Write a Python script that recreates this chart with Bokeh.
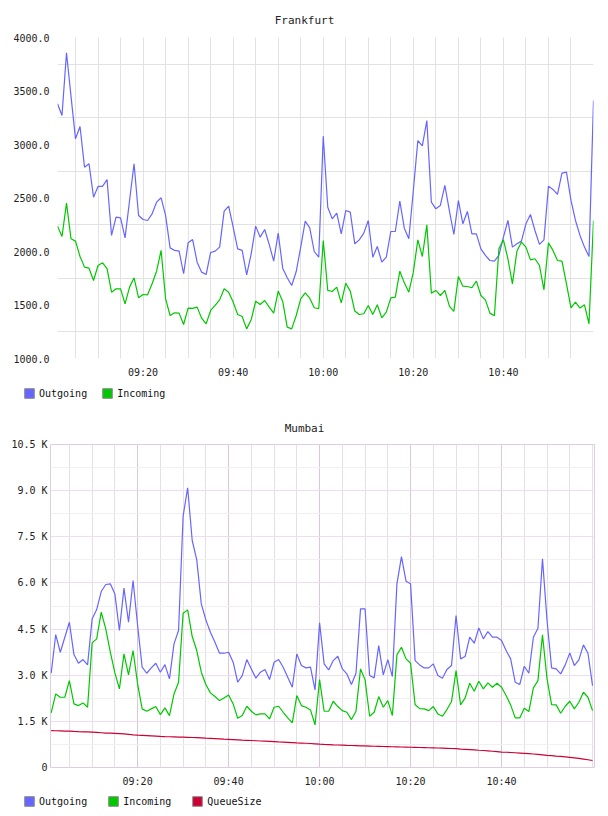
import pandas as pd
from bokeh.plotting import figure
from bokeh.layouts import column
from bokeh.models import (FixedTicker, PrintfTickFormatter, DatetimeTickFormatter,
                          Legend, LegendItem, Range1d, Label)
from bokeh.embed import file_html
from bokeh.resources import INLINE

# ---------------- data ----------------
day = "2024-01-01 "
first_time = "09:01"
n_points = 120
time_labels = ["09:20", "09:40", "10:00", "10:20", "10:40"]

fr_out = [3380, 3271, 3857, 3450, 3053, 3168, 2788, 2820, 2508, 2608,
          2608, 2673, 2150, 2321, 2315, 2128, 2477, 2820, 2337, 2299,
          2290, 2352, 2461, 2502, 2337, 2034, 2010, 2003, 1792, 2081,
          2112, 1900, 1807, 1785, 1991, 2003, 2041, 2377, 2424, 2228,
          2025, 2010, 1782, 1978, 2237, 2134, 2206, 2066, 1910, 2172,
          1844, 1754, 1682, 1813, 2041, 2284, 2221, 2000, 1947, 3078,
          2414, 2305, 2358, 2165, 2383, 2368, 2072, 2109, 2172, 2290,
          1947, 2047, 1900, 1947, 2187, 2187, 2471, 2218, 2119, 2570,
          3037, 2988, 3224, 2461, 2399, 2430, 2617, 2383, 2159, 2477,
          2259, 2374, 2165, 2165, 2025, 1963, 1916, 1910, 1963, 2134,
          2290, 2041, 2072, 2097, 2259, 2346, 2196, 2066, 2109, 2611,
          2580, 2533, 2732, 2742, 2477, 2290, 2150, 2041, 1953, 3411]

fr_in = [2237, 2140, 2452, 2119, 2097, 1953, 1854, 1844, 1729, 1869,
         1894, 1841, 1620, 1651, 1651, 1511, 1667, 1754, 1567, 1598,
         1595, 1698, 1816, 2010, 1558, 1402, 1427, 1424, 1318, 1471,
         1468, 1480, 1377, 1324, 1449, 1496, 1548, 1651, 1620, 1527,
         1411, 1393, 1277, 1362, 1536, 1505, 1542, 1480, 1424, 1630,
         1533, 1293, 1277, 1402, 1558, 1614, 1564, 1474, 1465, 2103,
         1636, 1626, 1667, 1520, 1704, 1630, 1443, 1411, 1418, 1496,
         1411, 1502, 1380, 1433, 1567, 1573, 1816, 1707, 1620, 1807,
         2109, 1953, 2249, 1611, 1636, 1589, 1636, 1489, 1440, 1767,
         1676, 1673, 1661, 1723, 1589, 1548, 1424, 1399, 2025, 2109,
         1932, 1698, 2003, 2088, 2041, 1922, 1932, 1869, 1642, 2081,
         2010, 1916, 1910, 1698, 1474, 1527, 1471, 1502, 1324, 2290]

mb_out = [3064, 4322, 3747, 4235, 4723, 3672, 3390, 3509, 3336, 4831,
          5135, 5720, 5948, 5970, 5644, 4452, 5829, 4723, 6078, 4615,
          3260, 3064, 3238, 3390, 3097, 3346, 2880, 4018, 4452, 8170,
          9092, 7379, 6750, 5319, 4799, 4398, 4073, 3715, 3715, 3747,
          3422, 2772, 2989, 3509, 3205, 2902, 3097, 3184, 2859, 3422,
          3509, 3260, 2934, 2609, 3693, 3314, 3238, 3260, 2522, 4701,
          3368, 3173, 3476, 3617, 3205, 3043, 2696, 3064, 5157, 5157,
          2989, 2913, 3964, 3010, 3509, 2956, 5970, 6858, 6056, 5970,
          3476, 3336, 3238, 3238, 3368, 2989, 2902, 3184, 3314, 4940,
          3531, 3607, 4235, 4040, 4539, 4181, 4420, 4235, 4235, 4127,
          3802, 3531, 2772, 2696, 3292, 3064, 4235, 4528, 6783, 4777,
          3238, 3205, 3043, 3336, 3726, 3314, 3498, 3986, 3715, 2664]

mb_in = [1775, 2392, 2284, 2284, 2826, 2067, 2013, 2100, 1959, 4051,
         4181, 5048, 4506, 3747, 3075, 2555, 3693, 3010, 3802, 2718,
         1905, 1829, 1905, 1981, 1720, 1937, 1688, 2392, 2772, 5016,
         5124, 4257, 3802, 3097, 2696, 2425, 2306, 2175, 2262, 2360,
         2067, 1601, 1688, 1991, 1829, 1710, 1742, 1742, 1579, 1959,
         1991, 1796, 1612, 1449, 2338, 2013, 1959, 1872, 1384, 2859,
         1829, 1829, 2154, 1981, 1850, 1796, 1558, 1829, 3205, 2848,
         1666, 1796, 2306, 1959, 2175, 1688, 3661, 3910, 3531, 3390,
         2046, 1915, 1905, 1850, 1981, 1742, 1666, 1883, 2143, 3151,
         2035, 2262, 2739, 2479, 2804, 2555, 2750, 2609, 2739, 2609,
         2338, 2035, 1612, 1612, 1927, 1818, 2587, 2826, 4311, 2880,
         2046, 2035, 1764, 1991, 2154, 1905, 2121, 2447, 2284, 1850]

mb_queue = [1200, 1195, 1190, 1185, 1180, 1172, 1165, 1160, 1155, 1150,
            1140, 1130, 1120, 1115, 1110, 1100, 1090, 1080, 1060, 1052,
            1045, 1038, 1030, 1022, 1012, 1005, 1000, 995, 990, 986,
            982, 975, 968, 960, 952, 945, 938, 930, 922, 915,
            908, 900, 892, 885, 878, 870, 862, 855, 848, 840,
            832, 825, 818, 810, 802, 795, 788, 780, 770, 760,
            752, 745, 738, 732, 726, 720, 715, 710, 705, 700,
            695, 690, 686, 682, 678, 674, 670, 666, 662, 658,
            654, 650, 646, 642, 638, 634, 630, 624, 618, 612,
            598, 590, 580, 570, 560, 552, 540, 528, 515, 502,
            495, 488, 480, 470, 460, 450, 438, 425, 410, 395,
            385, 372, 360, 348, 332, 315, 295, 275, 252, 228]

fr_yticks = [1000, 1500, 2000, 2500, 3000, 3500, 4000]
fr_ygrid = [1250, 1750, 2250, 2750, 3250, 3750]
mb_yticks = [0, 1500, 3000, 4500, 6000, 7500, 9000, 10500]
mb_ytick_labels = ["0", "1.5 K", "3.0 K", "4.5 K", "6.0 K", "7.5 K", "9.0 K", "10.5 K"]
mb_yminor = [750, 2250, 3750, 5250, 6750, 8250, 9750]

# ---------------- helpers ----------------
FONT = "DejaVu Sans Mono"
C_OUT = "#6666ff"
C_IN = "#00c800"
C_Q = "#cc0033"
W = 608

times = pd.date_range(day + first_time, periods=n_points, freq="min")


def ms(t):
    return pd.Timestamp(day + t).value / 1e6


major_x = [ms(t) for t in time_labels]
minor_x = [ms(t.strftime("%H:%M")) for t in pd.date_range(day + "09:05", day + "11:00", freq="5min")]

fmt = DatetimeTickFormatter(minutes="%H:%M", hours="%H:%M", minsec="%H:%M",
                            seconds="%H:%M", days="%H:%M", hourmin="%H:%M")


def blank_fig(height):
    b = figure(width=W, height=height, x_range=Range1d(0, W), y_range=Range1d(0, height),
               output_backend="svg", toolbar_location=None,
               x_axis_location=None, y_axis_location=None,
               min_border=0, min_border_left=0, min_border_right=0,
               min_border_top=0, min_border_bottom=0)
    b.grid.visible = False
    b.outline_line_color = None
    b.background_fill_color = "white"
    b.border_fill_color = "white"
    return b


def title_fig(height, text, center_from_top):
    t = blank_fig(height)
    t.add_layout(Label(x=W / 2, y=height - center_from_top, text=text,
                       text_align="center", text_baseline="middle",
                       text_font=FONT, text_font_size="11px", text_color="#222222"))
    return t


def legend_fig(height, entries, spacing):
    lp = blank_fig(height)
    items = []
    for label, color in entries:
        r = lp.quad(left=[float("nan")], right=[float("nan")], top=[float("nan")],
                    bottom=[float("nan")], fill_color=color,
                    line_color="#8a8a8a", line_width=1)
        items.append(LegendItem(label=label, renderers=[r]))
    lg = Legend(items=items, orientation="horizontal", location=(23, height - 16),
                glyph_width=12, glyph_height=12, label_standoff=4,
                spacing=spacing, padding=0, margin=0,
                border_line_color=None, background_fill_alpha=0,
                label_text_font=FONT, label_text_font_size="10px",
                label_text_color="#111111")
    lp.add_layout(lg)
    return lp


def chart_fig(height, x_range, y_range, mb_left, mb_right, mb_top, mb_bottom):
    p = figure(width=W, height=height, x_axis_type="datetime",
               x_range=x_range, y_range=y_range,
               output_backend="svg", toolbar_location=None,
               min_border_left=mb_left, min_border_right=mb_right,
               min_border_top=mb_top, min_border_bottom=mb_bottom)
    for ax in (p.xaxis[0], p.yaxis[0]):
        ax.axis_line_color = None
        ax.major_tick_line_color = None
        ax.minor_tick_line_color = None
        ax.major_label_text_font = FONT
        ax.major_label_text_font_size = "10px"
        ax.major_label_text_color = "#222222"
    p.xaxis.ticker = FixedTicker(ticks=major_x)
    p.xaxis.formatter = fmt
    p.xaxis.major_label_standoff = 2
    p.yaxis.major_label_standoff = 2
    p.background_fill_color = "white"
    p.border_fill_color = "white"
    return p


# ---------------- Frankfurt ----------------
t1 = title_fig(30, "Frankfurt", 20)
p1 = chart_fig(353, Range1d(ms("09:01"), ms("11:00")), Range1d(1000, 4000), 57, 15, 7, 25)
p1.outline_line_color = None
p1.yaxis.ticker = FixedTicker(ticks=fr_yticks)
p1.yaxis.formatter = PrintfTickFormatter(format="%.1f")
p1.xgrid.ticker = FixedTicker(ticks=minor_x)
p1.ygrid.ticker = FixedTicker(ticks=fr_ygrid)
p1.xgrid.grid_line_color = "#e2e2e2"
p1.ygrid.grid_line_color = "#e2e2e2"
p1.line(times, fr_out, line_color=C_OUT, line_width=1.2)
p1.line(times, fr_in, line_color=C_IN, line_width=1.2)
l1 = legend_fig(22, [("Outgoing", C_OUT), ("Incoming", C_IN)], 14)

# ---------------- Mumbai ----------------
t2 = title_fig(32, "Mumbai", 23)
p2 = chart_fig(354, Range1d(ms("09:01") - 9000, ms("11:00") + 26000), Range1d(0, 10500), 50, 14, 7, 24)
p2.outline_line_color = "#e0cce0"
p2.yaxis.ticker = FixedTicker(ticks=mb_yticks, minor_ticks=mb_yminor)
p2.yaxis.major_label_overrides = {v: s for v, s in zip(mb_yticks, mb_ytick_labels)}
p2.yaxis.major_label_standoff = -3
p2.xgrid.ticker = FixedTicker(ticks=major_x, minor_ticks=minor_x)
p2.ygrid.ticker = FixedTicker(ticks=mb_yticks, minor_ticks=mb_yminor)
p2.xgrid.grid_line_color = "#dcc6dc"
p2.xgrid.minor_grid_line_color = "#e6e0e6"
p2.ygrid.grid_line_color = "#efdcef"
p2.ygrid.minor_grid_line_color = "#f0f0f0"
p2.line(times, mb_out, line_color=C_OUT, line_width=1.2)
p2.line(times, mb_in, line_color=C_IN, line_width=1.2)
p2.line(times, mb_queue, line_color=C_Q, line_width=1.2)
l2 = legend_fig(25, [("Outgoing", C_OUT), ("Incoming", C_IN), ("QueueSize", C_Q)], 20)

layout = column(column(t1), column(p1), column(l1), column(t2), column(p2), column(l2), spacing=0)
open("out.html", "w").write(file_html(layout, INLINE))
